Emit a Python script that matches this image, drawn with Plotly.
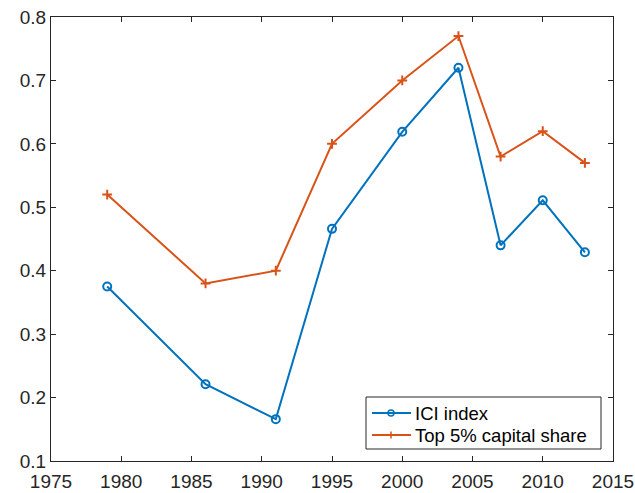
import plotly.graph_objects as go

years = [1979, 1986, 1991, 1995, 2000, 2004, 2007, 2010, 2013]
ici = [0.375, 0.221, 0.166, 0.466, 0.619, 0.72, 0.44, 0.511, 0.429]
top5 = [0.52, 0.38, 0.40, 0.60, 0.70, 0.77, 0.58, 0.62, 0.57]
series_names = ["ICI index", "Top 5% capital share"]
xticks = [1975, 1980, 1985, 1990, 1995, 2000, 2005, 2010, 2015]
yticks = [0.1, 0.2, 0.3, 0.4, 0.5, 0.6, 0.7, 0.8]

BLUE = "#0072BD"
ORANGE = "#D95319"
W, H = 635, 493
ML, MR, MT, MB = 51, 22, 17, 32
PW, PH = W - ML - MR, H - MT - MB
FONT = "Liberation Sans, Arial, Helvetica, sans-serif"


def fx(px):
    return (px - ML) / PW


def fy(py):
    return (H - MB - py) / PH


fig = go.Figure()
fig.add_trace(go.Scatter(
    x=years, y=ici, name=series_names[0], mode="lines+markers", showlegend=False,
    line=dict(color=BLUE, width=2),
    marker=dict(symbol="circle-open", size=8, color=BLUE, line=dict(width=2)),
))
fig.add_trace(go.Scatter(
    x=years, y=top5, name=series_names[1], mode="lines+markers", showlegend=False,
    line=dict(color=ORANGE, width=2),
    marker=dict(symbol="cross-thin-open", size=7, color=ORANGE, line=dict(width=2, color=ORANGE)),
))

axis_common = dict(
    showline=True, linecolor="#262626", linewidth=1, mirror="ticks",
    ticks="inside", ticklen=5, tickcolor="#262626", showgrid=False, zeroline=False,
    automargin=False,
    tickfont=dict(family=FONT, size=19, color="#262626"),
)
fig.update_xaxes(range=[1975, 2015], tickvals=xticks, ticktext=[str(t) for t in xticks],
                 ticklabelstandoff=3, **axis_common)
fig.update_yaxes(range=[0.1, 0.8], tickvals=yticks, ticktext=[f"{t:.1f}" for t in yticks], **axis_common)

# manual legend box (MATLAB style)
shapes = [dict(type="rect", xref="paper", yref="paper",
               x0=fx(366), x1=fx(601), y0=fy(449), y1=fy(397),
               line=dict(color="#262626", width=1), fillcolor="white", layer="above")]
annotations = []
rows = [(413, BLUE, "circle"), (435, ORANGE, "plus")]
for (py, col, sym), name in zip(rows, series_names):
    shapes.append(dict(type="line", xref="paper", yref="paper",
                       x0=fx(372), x1=fx(411), y0=fy(py), y1=fy(py),
                       line=dict(color=col, width=2), layer="above"))
    cx = 391
    if sym == "circle":
        r = 3
        shapes.append(dict(type="circle", xref="paper", yref="paper",
                           x0=fx(cx - r), x1=fx(cx + r), y0=fy(py + r), y1=fy(py - r),
                           line=dict(color=col, width=1.5), fillcolor="rgba(0,0,0,0)", layer="above"))
    else:
        r = 3.5
        shapes.append(dict(type="line", xref="paper", yref="paper",
                           x0=fx(cx), x1=fx(cx), y0=fy(py + r), y1=fy(py - r),
                           line=dict(color=col, width=1.5), layer="above"))
    annotations.append(dict(xref="paper", yref="paper", x=fx(413), y=fy(py),
                            xanchor="left", yanchor="middle", showarrow=False,
                            text=name, font=dict(family=FONT, size=18.5, color="black")))

fig.update_layout(
    width=W, height=H,
    margin=dict(l=ML, r=MR, t=MT, b=MB),
    paper_bgcolor="white", plot_bgcolor="white",
    font=dict(family=FONT, color="#262626"),
    showlegend=False,
    shapes=shapes, annotations=annotations,
)

fig.write_html("out.html", config={"displayModeBar": False},
               post_script="document.body.style.margin='0';")
